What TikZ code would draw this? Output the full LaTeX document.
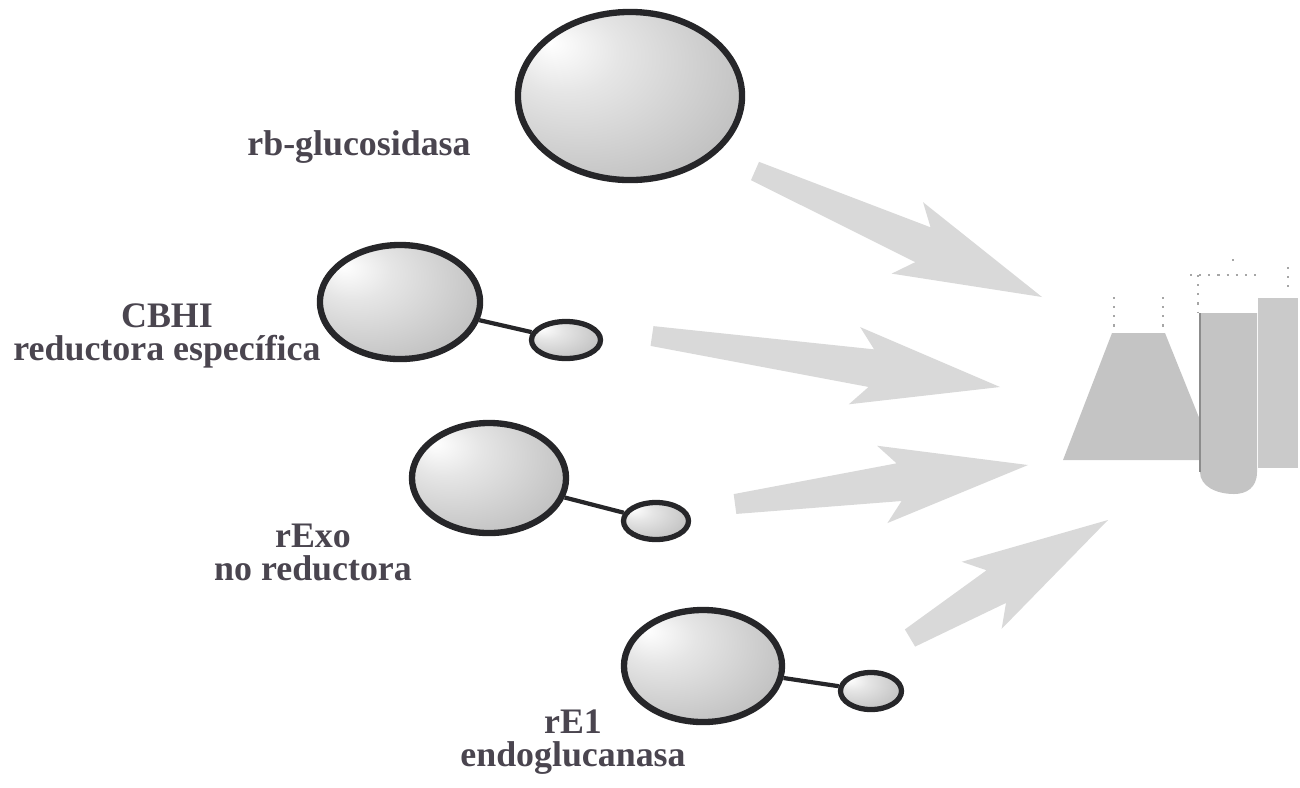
\documentclass[tikz,border=0pt]{standalone}
\usepackage{fontspec}
\setmainfont{Liberation Serif}
\usepackage{tikz}
\usetikzlibrary{shapes.geometric}
\usetikzlibrary{calc}
\definecolor{ink}{rgb}{0.15,0.15,0.16}
\definecolor{labelgray}{rgb}{0.29,0.27,0.31}
\definecolor{dotgray}{rgb}{0.85,0.85,0.85}
\definecolor{liquid}{rgb}{0.77,0.77,0.77}
\pgfdeclareradialshading{protein}{\pgfpoint{-18bp}{16bp}}{color(0bp)=(white); color(12bp)=(white!90!black); color(38bp)=(white!74!black); color(62bp)=(white!64!black)}
\tikzstyle{bigball}=[ellipse, draw=ink, line width=1.8pt, shading=protein, inner sep=0pt]
\tikzstyle{smallball}=[ellipse, draw=ink, line width=1.5pt, shading=protein, inner sep=0pt]
\tikzstyle{stalk}=[draw=ink, line width=1.2pt]
\tikzstyle{tag}=[text=labelgray, font=\fontsize{10.2}{9.2}\selectfont\bfseries, align=center, inner sep=0pt, anchor=base]
\tikzstyle{glass}=[draw=black!35, dotted, line width=0.6pt]
\tikzset{
	fatarrow/.style={fill=dotgray, draw=none, to path={
		($(\tikztostart)!0.1cm!90:(\tikztotarget)$)
		-- ($(\tikztotarget)!1.3cm!(\tikztostart)!0.19cm!90:(\tikztotarget)$)
		-- ($(\tikztotarget)!1.47cm!(\tikztostart)!0.39cm!90:(\tikztotarget)$)
		-- (\tikztotarget)
		-- ($(\tikztotarget)!1.47cm!(\tikztostart)!0.39cm!-90:(\tikztotarget)$)
		-- ($(\tikztotarget)!1.3cm!(\tikztostart)!0.19cm!-90:(\tikztotarget)$)
		-- ($(\tikztostart)!0.1cm!-90:(\tikztotarget)$)
		-- cycle}}
}

\begin{document}
\begin{tikzpicture}[x=0.01cm, y=-0.01cm]
	\useasboundingbox (0,0) rectangle (1300,787);

	% flask and tube
	\fill [liquid] (1112,333) -- (1165,333) -- (1200,420) -- (1200,460) -- (1063,460) -- cycle;
	\draw [glass] (1114,297) -- (1114,333);
	\draw [glass] (1163,297) -- (1163,333);
	\fill [liquid] (1200,313) -- (1257,313) -- (1257,472)
		.. controls (1257,488) and (1246,494) .. (1234,494)
		.. controls (1216,494) and (1200,486) .. (1200,472) -- cycle;
	\fill [liquid!90] (1258,298) rectangle (1298,468);
	\draw [black!45, line width=0.8pt] (1200,313) -- (1200,472);
	\draw [glass] (1190,275) -- (1263,275);
	\draw [glass] (1198,275) -- (1198,313);
	\draw [glass] (1288,267) -- (1288,287);
	\draw [glass] (1233,259) -- (1233,265);

	% arrows
	\coordinate (a1s) at (755,171);
	\coordinate (a1e) at (1042,297);
	\coordinate (a2s) at (652,336);
	\coordinate (a2e) at (1000,387);
	\coordinate (a3s) at (735,504);
	\coordinate (a3e) at (1028,465);
	\coordinate (a4s) at (910,638);
	\coordinate (a4e) at (1108,520);
	\path [fatarrow] (a1s) to (a1e);
	\path [fatarrow] (a2s) to (a2e);
	\path [fatarrow] (a3s) to (a3e);
	\path [fatarrow] (a4s) to (a4e);

	% enzymes
	\node [bigball, minimum width=2.24cm, minimum height=1.68cm] (bglu) at (630,96) {};
	\node [bigball, minimum width=1.60cm, minimum height=1.14cm] (cbhi) at (400,302) {};
	\node [smallball, minimum width=0.69cm, minimum height=0.37cm] (cbhi-cbd) at (566,340) {};
	\node [bigball, minimum width=1.54cm, minimum height=1.10cm] (rexo) at (489,478) {};
	\node [smallball, minimum width=0.65cm, minimum height=0.37cm] (rexo-cbd) at (656,521) {};
	\node [bigball, minimum width=1.58cm, minimum height=1.12cm] (re1) at (703,666) {};
	\node [smallball, minimum width=0.61cm, minimum height=0.37cm] (re1-cbd) at (871,691) {};
	\draw [stalk] (cbhi) -- (cbhi-cbd);
	\draw [stalk] (rexo) -- (rexo-cbd);
	\draw [stalk] (re1) -- (re1-cbd);

	% names (base = last line)
	\node [tag] (bglu-name) at (359,155) {rb-glucosidasa};
	\node [tag] (cbhi-name) at (167,360) {CBHI\\reductora específica};
	\node [tag] (rexo-name) at (313,580) {rExo\\no reductora};
	\node [tag] (re1-name) at (573,766) {rE1\\endoglucanasa};
\end{tikzpicture}
\end{document}
